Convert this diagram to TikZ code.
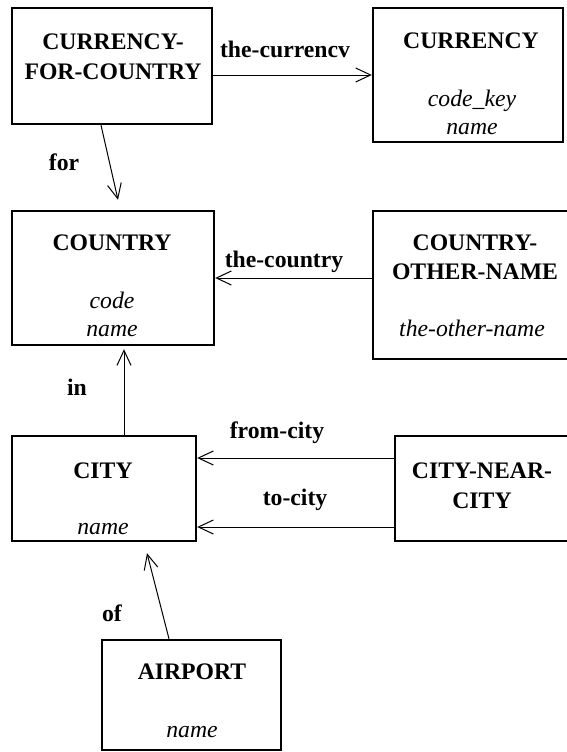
\documentclass[tikz,border=0pt]{standalone}
\usepackage{fontspec}
\setmainfont{Liberation Serif}[
  BoldFont={Liberation Serif Bold},
  ItalicFont={Liberation Serif Italic}]
\usetikzlibrary{positioning, arrows.meta}
\tikzset{
  entity/.style={draw, line width=2.4pt, inner sep=0pt},
  ename/.style={font=\fontsize{23.7}{29.5}\selectfont\bfseries, align=center, inner sep=0pt},
  eattr/.style={font=\fontsize{23.7}{28}\selectfont\itshape, align=center, inner sep=0pt, anchor=south},
  rolename/.style={font=\fontsize{23.7}{28}\selectfont\bfseries, inner sep=0pt, anchor=base},
  link/.style={line width=1pt, -{Straight Barb[length=15pt, width=14pt]}},
}

\begin{document}
\begin{tikzpicture}[x=1pt, y=-1pt]
  \useasboundingbox (0,0) rectangle (567,752);
  % entity boxes
  \node[entity, minimum width=200pt, minimum height=116pt] (cfc)     at (112,66)    {};
  \node[entity, minimum width=190pt, minimum height=134pt] (currency) at (468,75)   {};
  \node[entity, minimum width=202pt, minimum height=134pt] (country) at (113,278)   {};
  \node[entity, minimum width=206pt, minimum height=148pt] (con)     at (476,285)   {};
  \node[entity, minimum width=184pt, minimum height=105pt] (city)    at (104,488.5) {};
  \node[entity, minimum width=176pt, minimum height=105pt] (cnc)     at (483,488.5) {};
  \node[entity, minimum width=179pt, minimum height=110pt] (airport) at (191.5,695) {};
  % entity names
  \node[ename] (cfcN)      at (113,57)    {CURRENCY-\\FOR-COUNTRY};
  \node[ename] (currencyN) at (471,41)    {CURRENCY};
  \node[ename] (countryN)  at (112,243)   {COUNTRY};
  \node[ename] (conN)      at (475,257.5) {COUNTRY-\\OTHER-NAME};
  \node[ename] (cityN)     at (103,471)   {CITY};
  \node[ename] (cncN)      at (482,486)   {CITY-NEAR-\\CITY};
  \node[ename] (airportN)  at (192,672)   {AIRPORT};
  % attributes
  \node[eattr] (currencyA) at (472,135) {code\_key\\name};
  \node[eattr] (countryA)  at (112,337) {code\\name};
  \node[eattr] (conA)      at (472,337) {the-other-name};
  \node[eattr] (cityA)     at (103,535) {name};
  \node[eattr] (airportA)  at (192,738) {name};
  % relationships
  \draw[link] (cfc.east |- currency.west) -- (currency.west);
  \draw[link] ([xshift=-11pt]cfc.south) -- ([xshift=5pt, yshift=10pt]country.north);
  \draw[link] (con.west |- country.east) -- (country.east);
  \draw[link] ([xshift=20pt]city.north) -- ([xshift=11pt, yshift=-3pt]country.south);
  \draw[link] ([yshift=30.5pt]cnc.west) -- ([yshift=30.5pt]city.east);
  \draw[link] ([yshift=-38.5pt]cnc.west) -- ([yshift=-38.5pt]city.east);
  \draw[link] ([xshift=-22.5pt]airport.north) -- ([xshift=43pt, yshift=-11pt]city.south);
  % role names
  \node[rolename] (lblCurrency) at (285,58)  {the-currencv};
  \node[rolename] (lblFor)      at (64,170)  {for};
  \node[rolename] (lblCountry)  at (284,267) {the-country};
  \node[rolename] (lblIn)       at (77,395)  {in};
  \node[rolename] (lblFrom)     at (277,438) {from-city};
  \node[rolename] (lblTo)       at (295,505) {to-city};
  \node[rolename] (lblOf)       at (112,621) {of};
\end{tikzpicture}
\end{document}
